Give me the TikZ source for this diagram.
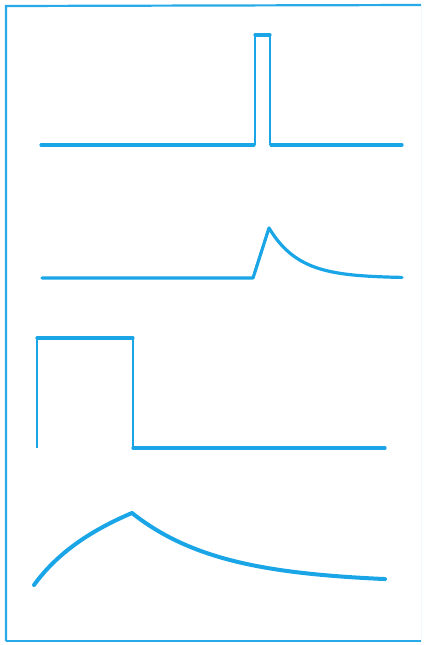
\documentclass[tikz,border=0pt]{standalone}
\definecolor{wave}{RGB}{25,165,230}
\definecolor{framec}{RGB}{40,170,232}
\begin{document}
\begin{tikzpicture}[x=1pt,y=-1pt,
  thickw/.style={draw=wave,line width=3.2pt,line cap=round,line join=round},
  thinw/.style={draw=wave,line width=1.7pt},
  framel/.style={draw=framec,line width=2.2pt}]
\useasboundingbox (0,0) rectangle (423,645);
% frame
\draw[framel] (6,641) -- (6,6) -- (421,5);
\draw[framel] (6,641) -- (421,641);
\draw[draw=framec!8,line width=1pt] (421,5) -- (421,641);
% waveform 1: narrow pulse
\draw[thickw] (41,145) -- (254,145);
\draw[thickw] (271,145) -- (402,145);
\draw[thinw] (255,145) -- (255,35);
\draw[thinw] (270,35) -- (270,145);
\draw[thickw] (255,35) -- (270,35);
% waveform 2: spike with decay
\draw[thickw] (42,278) -- (253,278) -- (269,228)
  plot[domain=269:402,samples=60,smooth] (\x,{278-50*exp(-(\x-269)/30)});
% waveform 3: wide pulse
\draw[thinw] (37,448) -- (37,338);
\draw[thickw] (37,338) -- (133,338);
\draw[thinw] (133,338) -- (133,448);
\draw[thickw] (133,448) -- (385,448);
% waveform 4: charge / discharge
\draw[draw=wave,line width=4pt,line cap=round,line join=miter] (34,585) .. controls (58,552) and (92,530) .. (132,513)
  plot[domain=132:385,samples=80,smooth] (\x,{583-70*exp(-(\x-132)/88)});
\end{tikzpicture}
\end{document}
